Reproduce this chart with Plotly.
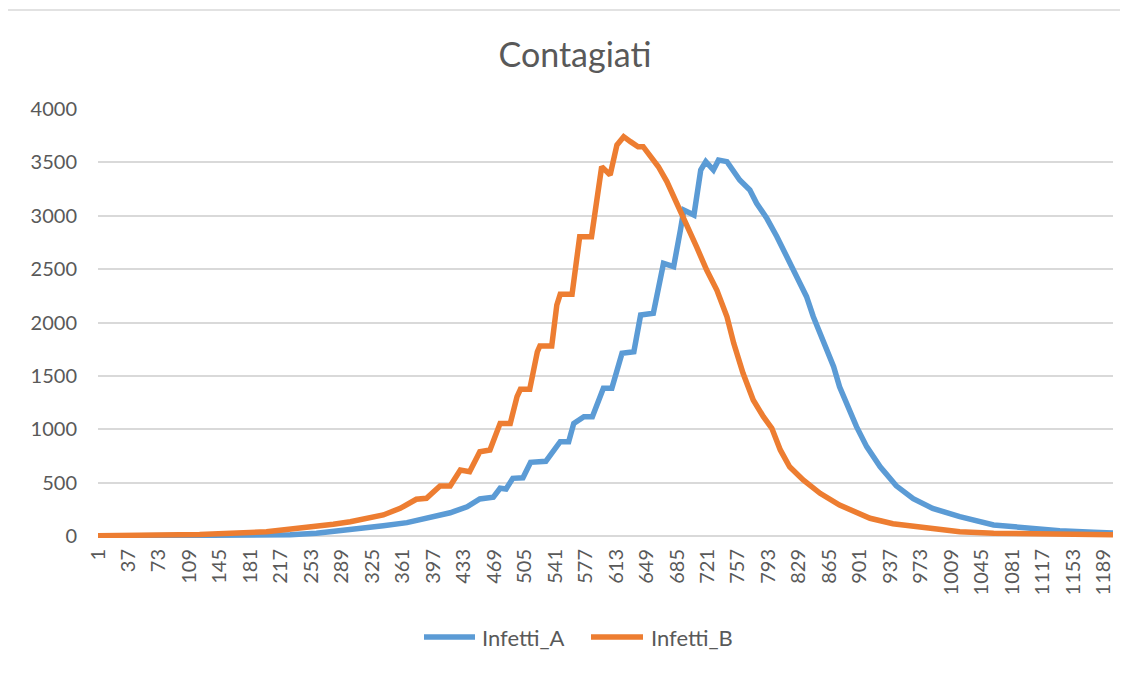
import plotly.graph_objects as go

# ---- data ----
days_A = [1, 121, 180, 228, 259, 299, 338, 366, 398, 417, 437, 452, 468, 476, 483, 491,
          503, 512, 530, 542, 547, 557, 563, 575, 585, 598, 608, 620, 634, 642, 657, 669,
          681, 689, 693, 705, 713, 719, 728, 734, 744, 759, 771, 779, 791, 803, 815, 826,
          838, 846, 858, 870, 877, 885, 897, 909, 925, 944, 964, 987, 1019, 1059, 1098,
          1137, 1177, 1200]
infetti_A = [0, 2, 5, 12, 25, 56, 97, 125, 181, 218, 274, 347, 363, 447, 440, 540,
             545, 690, 700, 837, 884, 884, 1055, 1118, 1118, 1383, 1383, 1711, 1726, 2070, 2086, 2554,
             2523, 2866, 3054, 3007, 3428, 3507, 3428, 3522, 3507, 3335, 3241, 3117, 2976, 2804, 2616, 2429,
             2242, 2054, 1805, 1586, 1398, 1243, 1024, 837, 649, 470, 350, 259, 181, 103, 72,
             50, 34, 28]

days_B = [1, 62, 121, 200, 240, 259, 279, 299, 318, 338, 358, 377, 389, 405, 417, 429,
          440, 452, 464, 476, 488, 496, 500, 511, 520, 523, 537, 543, 547, 561, 570, 584,
          596, 606, 614, 622, 630, 639, 645, 653, 663, 673, 685, 696, 708, 720, 732, 744,
          752, 763, 775, 787, 797, 807, 818, 834, 854, 877, 897, 913, 940, 980, 1019,
          1059, 1117, 1200]
infetti_B = [3, 5, 15, 40, 70, 87, 110, 134, 166, 197, 259, 344, 353, 468, 468, 618,
             602, 790, 805, 1055, 1055, 1305, 1374, 1374, 1726, 1780, 1780, 2164, 2264, 2264, 2804, 2804,
             3460, 3382, 3663, 3741, 3694, 3647, 3647, 3569, 3459, 3320, 3117, 2929, 2710, 2492, 2304, 2054,
             1805, 1524, 1274, 1118, 1009, 806, 649, 525, 400, 290, 228, 166, 115, 72, 40,
             25, 15, 12]

tick_days = list(range(1, 1200, 36))
tick_labels = [str(d) for d in tick_days]

title_text = "Contagiati"
series_names = ["Infetti_A", "Infetti_B"]
colors = ["#5B9BD5", "#ED7D31"]

# ---- geometry helpers (page pixels -> paper coords); page has an 8px body offset ----
W_FIG, H_FIG = 1120, 665
L, T, B = 90, 101, 135
R = 15
PLOT_W = W_FIG - L - R          # 1015
PLOT_H = H_FIG - T - B          # 429


def px_x(page_x):
    return (page_x - 8 - L) / PLOT_W


def px_y(page_y):
    return (T + PLOT_H - (page_y - 8)) / PLOT_H


FONT = "Lato, 'Open Sans', sans-serif"
TXT = "#595959"
LINE_W = 5.5

fig = go.Figure()
for xs, ys, name, col in [(days_A, infetti_A, series_names[0], colors[0]),
                          (days_B, infetti_B, series_names[1], colors[1])]:
    fig.add_trace(go.Scatter(x=xs, y=ys, mode="lines", name=name,
                             line=dict(color=col, width=LINE_W), showlegend=False))

# custom legend (longer line samples like the original)
legend_y = px_y(637)
legend_items = [(424, 475, 480), (591, 643, 649)]
shapes = [dict(type="rect", xref="paper", yref="paper",
               x0=px_x(7), x1=px_x(1145), y0=px_y(700), y1=px_y(10),
               line=dict(color="#d9d9d9", width=1.5), fillcolor="rgba(0,0,0,0)", layer="below")]
annotations = []
for (lx0, lx1, tx), name, col in zip(legend_items, series_names, colors):
    shapes.append(dict(type="line", xref="paper", yref="paper",
                       x0=px_x(lx0), x1=px_x(lx1), y0=legend_y, y1=legend_y,
                       line=dict(color=col, width=LINE_W)))
    annotations.append(dict(text=name, xref="paper", yref="paper", x=px_x(tx), y=legend_y,
                            xanchor="left", yanchor="middle", showarrow=False,
                            font=dict(family=FONT, size=22, color=TXT)))

fig.update_layout(
    width=W_FIG, height=H_FIG,
    margin=dict(l=L, r=R, t=T, b=B, pad=0),
    paper_bgcolor="white", plot_bgcolor="white",
    font=dict(family=FONT, color=TXT, size=20),
    title=dict(text=title_text, x=px_x(575), xref="paper", xanchor="center",
               y=1 - (55 - 8) / H_FIG, yanchor="middle", yref="container",
               font=dict(family=FONT, size=34, color=TXT)),
    showlegend=False,
    xaxis=dict(range=[1, 1200], tickmode="array", tickvals=tick_days, ticktext=tick_labels,
               tickangle=-90, showgrid=False, zeroline=False, showline=False,
               ticks="", ticklabelstandoff=6, tickfont=dict(family=FONT, size=20, color=TXT)),
    yaxis=dict(range=[-4000 * 2 / 427, 4000], tickmode="array", tickvals=list(range(0, 4001, 500)),
               showgrid=True, gridcolor="#d9d9d9", gridwidth=1.5,
               zeroline=True, zerolinecolor="#d9d9d9", zerolinewidth=1.5,
               showline=False, ticks="", ticklabelstandoff=20,
               tickfont=dict(family=FONT, size=20, color=TXT)),
    shapes=shapes,
    annotations=annotations,
)

fig.write_html("out.html")
